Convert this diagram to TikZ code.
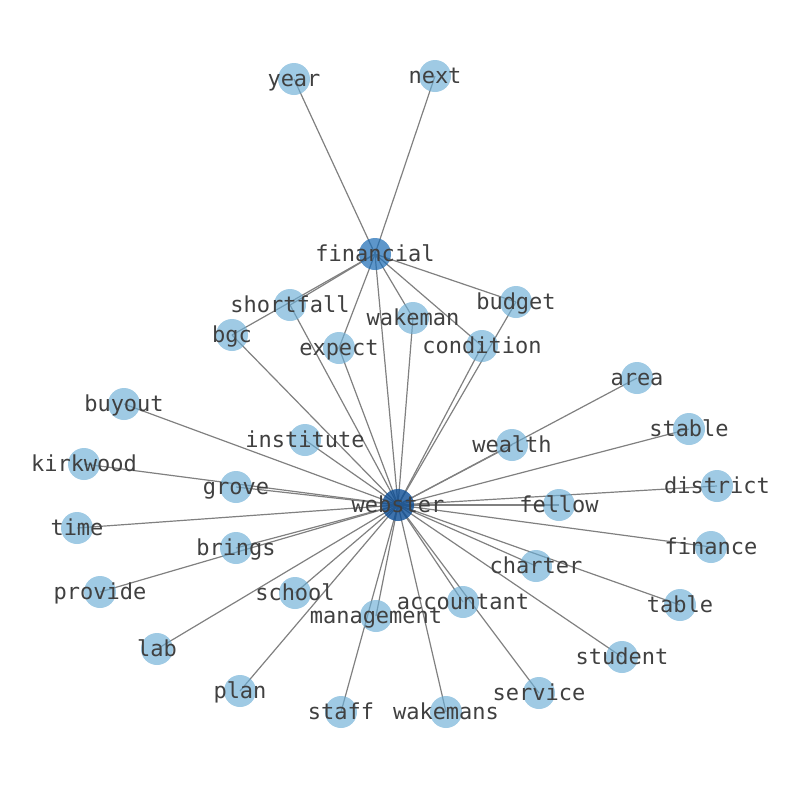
\documentclass[tikz,border=0pt]{standalone}
\usepackage{fontspec}
\setmonofont{DejaVu Sans Mono}
\usepackage{tikz}
\usetikzlibrary{positioning}

\definecolor{leafblue}{RGB}{107,174,214}
\definecolor{midblue}{RGB}{30,110,182}
\definecolor{hubblue}{RGB}{12,78,150}
\definecolor{labelgray}{RGB}{64,64,64}
\definecolor{edgegray}{RGB}{128,128,128}

\pgfdeclarelayer{edges}
\pgfdeclarelayer{labels}
\pgfsetlayers{edges,main,labels}

\tikzset{
  dot/.style={circle, minimum size=24pt, inner sep=0pt, fill opacity=0.65},
  leaf/.style={dot, fill=leafblue},
  mid/.style={dot, fill=midblue, fill opacity=0.72},
  hub/.style={dot, fill=hubblue, fill opacity=0.8},
  word/.style={font=\ttfamily\fontsize{16.5}{16.5}\selectfont, text=labelgray,
    text height=0.76em, text depth=0.24em, inner sep=0pt, yshift=-3pt},
  link/.style={draw=edgegray, line width=0.9pt}
}

\begin{document}
\begin{tikzpicture}[x=0.75pt, y=-0.75pt]
    \useasboundingbox (0,0) rectangle (794,790);

    % 1. Hubs
    \node[hub] (webster) at (398,505) {};
    \node[mid] (financial) at (375,254) {};

    % 2. Leaf nodes
    \foreach \n/\x/\y in {year/294/79, next/435/76, shortfall/290/305,
        budget/516/302, wakeman/413/318, bgc/232/335, expect/339/348,
        condition/482/346, area/637/378, buyout/124/404, institute/305/440,
        wealth/512/445, stable/689/429, kirkwood/84/464, grove/236/487,
        district/717/486, fellow/559/505, time/77/528, brings/236/548,
        finance/711/547, charter/536/566, provide/100/592, school/295/593,
        accountant/463/602, management/376/616, table/680/605, lab/157/649,
        student/622/657, plan/240/691, service/539/693, staff/341/712,
        wakemans/446/712} {
        \node[leaf] (\n) at (\x,\y) {};
    }

    % 3. Edges
    \begin{pgfonlayer}{edges}
    \foreach \n in {year, next, shortfall, bgc, expect, wakeman, condition,
        budget, webster} {
        \draw[link] (financial.center) -- (\n.center);
    }
    \foreach \n in {bgc, shortfall, expect, wakeman, condition, budget, area,
        wealth, stable, district, fellow, finance, table, charter, student,
        service, accountant, wakemans, management, staff, plan, school, lab,
        provide, brings, time, grove, kirkwood, buyout, institute} {
        \draw[link] (webster.center) -- (\n.center);
    }
    \end{pgfonlayer}

    % 4. Labels
    \begin{pgfonlayer}{labels}
    \foreach \n in {webster, financial, year, next, shortfall, budget, wakeman,
        bgc, expect, condition, area, buyout, institute, wealth, stable,
        kirkwood, grove, district, fellow, time, brings, finance, charter,
        provide, school, accountant, management, table, lab, student, plan,
        service, staff, wakemans} {
        \node[word] (\n-txt) at (\n) {\n};
    }
    \end{pgfonlayer}
\end{tikzpicture}
\end{document}
